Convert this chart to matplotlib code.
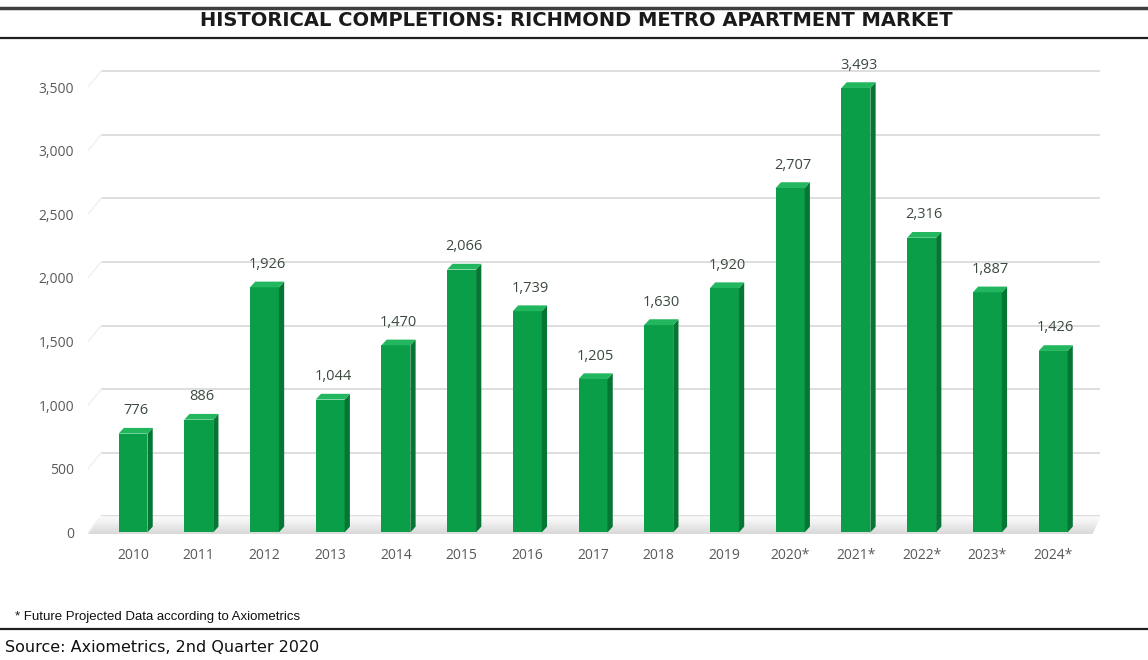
import matplotlib
matplotlib.use("Agg")
import matplotlib.pyplot as plt
from matplotlib.patches import Polygon
from matplotlib.lines import Line2D
import numpy as np

years = ["2010", "2011", "2012", "2013", "2014", "2015", "2016", "2017",
         "2018", "2019", "2020*", "2021*", "2022*", "2023*", "2024*"]
completions = [776, 886, 1926, 1044, 1470, 2066, 1739, 1205,
               1630, 1920, 2707, 3493, 2316, 1887, 1426]
y_ticks = [0, 500, 1000, 1500, 2000, 2500, 3000, 3500]

title = "HISTORICAL COMPLETIONS: RICHMOND METRO APARTMENT MARKET"
footnote = "* Future Projected Data according to Axiometrics"
source = "Source: Axiometrics, 2nd Quarter 2020"

front_col = "#0b9e49"
side_col = "#067634"
top_col = "#22b65e"
label_col = "#3b4a3f"
tick_col = "#595959"

fig = plt.figure(figsize=(11.48, 6.6), dpi=100)
W, H = 1148, 660

# axes box in pixels: left 88, right 1105, top 68, bottom 540
ax = fig.add_axes([88 / W, 1 - 540 / H, (1105 - 88) / W, (540 - 68) / H])
for s in ax.spines.values():
    s.set_visible(False)

# 3d depth of the bars and of the back wall (data units)
bar_w = 0.44
bdx, bdy = 0.08, 45
wdx, wdy = 0.2, 126
x = np.arange(len(years))

# back wall gridlines plus faint side-wall lines
for v in y_ticks:
    ax.plot([-0.685 + wdx, 14.72], [v + wdy, v + wdy], color="#dedede",
            lw=1.4, zorder=1, solid_capstyle="butt")
    ax.plot([-0.685, -0.685 + wdx], [v, v + wdy], color="#f0f0f0",
            lw=1.0, zorder=1)

# floor: light grey band fading towards the back
floor = Polygon([(-0.685, -15), (14.6, -15), (14.72, wdy), (-0.685 + wdx, wdy)],
                closed=True, facecolor="none", edgecolor="none")
ax.add_patch(floor)
grad = np.linspace(1.0, 0.0, 50).reshape(-1, 1) ** 0.7
im = ax.imshow(grad, extent=(-0.685, 14.79, -15, wdy), origin="lower",
               cmap="Greys", vmin=0, vmax=4.0, aspect="auto", zorder=1.5)
im.set_clip_path(floor)
ax.set_xlim(-0.685, 14.79)
ax.set_ylim(-60, 3650)

# bars: front face, side face and top face
ax.bar(x, completions, width=bar_w, color=front_col, zorder=3, linewidth=0)
for xi, v in zip(x, completions):
    x0 = xi - bar_w / 2
    x1 = xi + bar_w / 2
    side = Polygon([(x1, 0), (x1 + bdx, bdy), (x1 + bdx, v + bdy), (x1, v)],
                   closed=True, facecolor=side_col, edgecolor="none", zorder=3)
    top = Polygon([(x0, v), (x1, v), (x1 + bdx, v + bdy), (x0 + bdx, v + bdy)],
                  closed=True, facecolor=top_col, edgecolor="none", zorder=3)
    ax.add_patch(side)
    ax.add_patch(top)
    ax.annotate(f"{v:,}", (xi + bdx / 2, v + bdy), xytext=(0, 7),
                textcoords="offset points", ha="center", va="bottom",
                fontsize=10.5, color=label_col, family="Open Sans")

ax.set_xticks(x)
ax.set_xticklabels(years)
ax.set_yticks(y_ticks)
ax.set_yticklabels([f"{v:,}" for v in y_ticks])
ax.tick_params(axis="x", length=0, pad=6, labelsize=10, labelcolor=tick_col)
ax.tick_params(axis="y", length=0, pad=10, labelsize=10, labelcolor=tick_col)
for lab in ax.get_xticklabels() + ax.get_yticklabels():
    lab.set_family("Open Sans")

# header / footer rules and text
def hrule(ypx, lw, color):
    fig.add_artist(Line2D([0, 1], [1 - ypx / H, 1 - ypx / H], lw=lw,
                          color=color, transform=fig.transFigure))

hrule(8, 2.5, "#3f3f3f")
hrule(38, 1.6, "#202020")
hrule(629, 1.6, "#202020")

fig.text(576 / W, 1 - 20 / H, title, ha="center", va="center",
         fontsize=14, fontweight="bold", color="#1a1a1a", family="DejaVu Sans")
fig.text(15 / W, 1 - 617 / H, footnote, ha="left", va="center",
         fontsize=9.5, color="#111111", family="Liberation Sans")
fig.text(5 / W, 1 - 647 / H, source, ha="left", va="center",
         fontsize=11.5, color="#111111", family="DejaVu Sans")

fig.savefig("out.png", dpi=100)
